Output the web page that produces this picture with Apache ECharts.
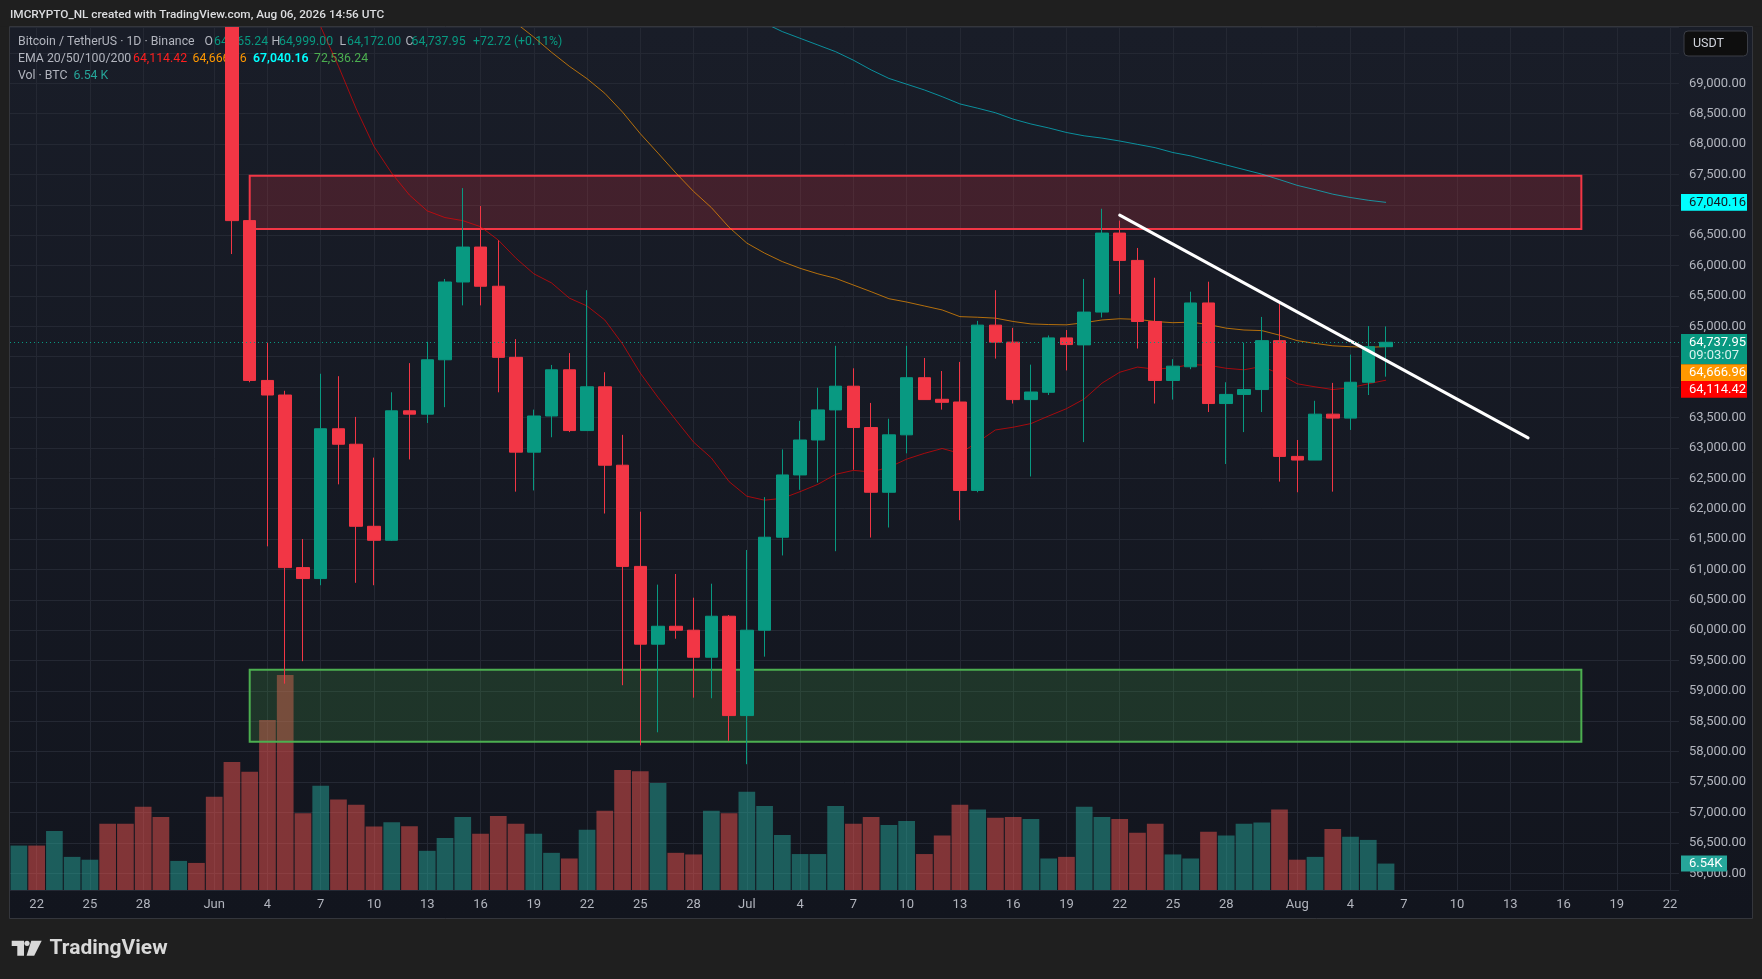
<!DOCTYPE html>
<html>
<head>
<meta charset="utf-8">
<script src="https://cdn.jsdelivr.net/npm/echarts@6/dist/echarts.min.js"></script>
<style>
html,body{margin:0;padding:0;background:#1f1f1f;}
#chart{width:1762px;height:979px;}
</style>
</head>
<body>
<div id="chart"></div>
<script>
// ---------------- DATA ----------------
const startDate = '2026-05-21';
const dayCount = 94;                 // visible days: May 21 .. Aug 22
const monthNames = ['Jan','Feb','Mar','Apr','May','Jun','Jul','Aug','Sep','Oct','Nov','Dec'];
const tickDays = [1,4,7,10,13,16,19,22,25,28];

// Candles aligned with dates from May 21 (first 12 days are above the visible price range)
const N12 = [null,null,null,null,null,null,null,null,null,null,null,null];
const openV = N12.concat([
  71900,66740,64110,63870,61030,60850,63315,63060,61710,61480,63610,63555,64450,65730,66305,65660,64490,62930,63525,64285,63285,64005,62715,61050,59770,60065,60000,59555,60230,
  58595,60000,61530,62555,63130,63625,64015,63335,62270,63215,64155,63800,63755,62300,65020,64740,63795,63915,64810,64695,65235,66535,66085,65080,64110,64335,65385,63730,63880,63960,64765,
  62860,62800,63555,63490,64080,64665.24]);
const closeV = N12.concat([
  66740,64110,63870,61030,60850,63315,63060,61710,61480,63610,63555,64450,65730,66305,65660,64490,62930,63525,64285,63285,64005,62715,61050,59770,60065,60000,59555,60230,58595,
  60000,61530,62555,63130,63625,64015,63335,62270,63215,64155,63795,63750,62300,65020,64740,63795,63920,64810,64700,65235,66535,66085,65080,64110,64345,65385,63730,63880,63960,64765,62860,
  62800,63555,63490,64080,64665.24,64737.95]);
const lowV = N12.concat([
  66190,64080,61380,59120,59490,60740,62400,60780,60740,61470,62810,63410,63670,65345,65345,63915,62280,62300,63175,63260,63280,61920,59095,58105,58320,59860,58890,58880,58180,
  57795,59565,61230,62310,62430,61300,62640,61525,61690,62910,63795,63630,61810,62270,64470,63730,62530,63870,64275,63095,65145,65530,64635,63730,63795,64295,63590,62735,63260,63590,62445,
  62270,62800,62280,63295,63870,64172]);
const highV = N12.concat([
  72300,66760,64730,63940,61500,64220,64180,63510,62840,63915,64395,64745,65780,67275,66980,66415,64790,63630,64365,64560,65595,64245,63215,61950,60750,60925,60535,60765,60250,
  61320,62190,62975,63445,63990,64680,64310,63740,63480,64680,64480,64265,64415,65090,65595,64975,64370,64850,64940,65780,66935,66740,66290,65800,64460,65570,65735,64080,64730,65155,65400,
  63130,63775,64070,64535,65005,64999]);
const earlyDir = [1,-1,1,1,1,-1,-1,-1,-1,1,-1,-1];

// Volume in thousands of BTC
const volK = [
  11.0,11.0,14.6,8.2,7.5,16.4,16.4,20.6,18.1,7.2,6.7,23.1,
  31.7,29.3,42.1,53.2,19.0,25.8,22.4,21.1,15.7,16.8,15.8,9.7,12.9,18.1,13.9,18.3,16.4,13.9,9.2,7.8,14.9,19.6,29.7,29.4,26.5,9.2,8.8,19.6,19.0,
  24.3,20.8,13.6,8.9,8.9,20.8,16.4,18.1,16.1,17.1,8.9,13.5,21.1,19.9,17.9,18.1,17.6,7.8,8.2,20.6,18.1,17.6,14.2,16.4,8.8,7.8,14.4,13.5,16.4,16.7,19.9,
  7.5,8.2,15.1,13.2,12.4,6.54];

// EMAs (null = not drawn / far above range)
const ema20 = Array(16).fill(null).concat([
  70600,69930,69280,68580,67960,67520,67160,66900,66790,66740,66640,66420,66120,65865,65715,65465,65335,65105,64710,64230,63830,63460,63095,62835,62445,
  62205,62140,62170,62280,62400,62565,62630,62605,62680,62815,62910,62990,62910,63095,63295,63340,63400,63525,63645,63805,64065,64245,64330,64295,64320,64370,64360,64310,64285,64340,64220,
  64055,64005,63960,63990,64055,64114.42]);
const ema50 = Array(27).fill(null).concat([
  70250,69990,69760,69510,69280,69075,68835,68525,68170,67850,67525,67220,66955,66630,
  66370,66205,66065,65955,65865,65790,65680,65570,65455,65400,65335,65270,65160,65150,65135,65080,65040,65030,65025,65060,65105,65125,65115,65080,65060,65070,65030,64970,64940,64930,64855,
  64765,64720,64680,64665,64655,64666.96]);
const ema100 = Array(41).fill(null).concat([
  70110,69990,69850,69740,69630,69520,69380,69220,69080,68985,68890,68780,68660,68590,68515,68410,68330,68265,68190,68135,68098,68050,67995,67940,67860,67805,67730,67655,67580,67505,67415,
  67320,67250,67175,67120,67075,67040.16]);
const ema200Last = 72536.24;
const changeLabel = '+72.72 (+0.11%)';
const countdownLabel = '09:03:07';

// Drawings
const redZone = ['2026-06-03', '2026-08-17', 67480, 66600];
const greenZone = ['2026-06-03', '2026-08-17', 59350, 58165];
const trendStart = ['2026-07-22', 66830];
const trendEnd = ['2026-08-14', 63165];

// Price scale extent (visible window)
const priceMin = 55725, priceMax = 69926;
const volMax = 60000;

// ---------------- BUILD ----------------
const FONT = 'Roboto, "Noto Sans", "DejaVu Sans", sans-serif';
const UP = '#089981', DOWN = '#f23645';
const categories = [];
{
  const t0 = Date.parse(startDate + 'T00:00:00Z');
  for (let i = 0; i < dayCount; i++) categories.push(new Date(t0 + i * 86400000).toISOString().slice(0, 10));
}
const isTick = (idx) => tickDays.indexOf(+categories[idx].slice(8, 10)) >= 0;
const tickLabel = (val) => {
  const m = +val.slice(5, 7), d = +val.slice(8, 10);
  return d === 1 ? monthNames[m - 1] : String(d);
};
const fmt2 = (v) => Number(v).toLocaleString('en-US', {minimumFractionDigits: 2, maximumFractionDigits: 2});

const candleData = openV.map((o, i) => o == null ? ['-', '-', '-', '-'] : [o, closeV[i], lowV[i], highV[i]]);
const volData = volK.map((v, i) => {
  const up = i < earlyDir.length ? earlyDir[i] > 0 : closeV[i] >= openV[i];
  return {value: v * 1000, itemStyle: {color: up ? 'rgba(38,166,154,0.5)' : 'rgba(239,83,80,0.5)'}};
});
const last = openV.length - 1;

const chart = echarts.init(document.getElementById('chart'), null, {renderer: 'canvas'});

const option = {
  backgroundColor: '#1f1f1f',
  animation: false,
  grid: [
    {left: 10, right: 83, top: 27, bottom: 89},
    {left: 10, right: 83, top: 647.6, bottom: 89}
  ],
  xAxis: [
    {
      type: 'category', gridIndex: 0, data: categories, boundaryGap: true,
      axisLine: {show: false}, axisTick: {show: false, alignWithLabel: true},
      axisLabel: {interval: (i) => isTick(i), formatter: tickLabel, color: '#b2b5be', fontSize: 13, fontFamily: FONT, margin: 8, hideOverlap: false},
      splitLine: {show: true, alignWithLabel: true, interval: (i) => isTick(i), lineStyle: {color: '#242833', width: 1}}
    },
    {type: 'category', gridIndex: 1, data: categories, boundaryGap: true, show: false}
  ],
  yAxis: [
    {
      type: 'value', gridIndex: 0, position: 'right', min: priceMin, max: priceMax, splitNumber: 28,
      axisLine: {show: false}, axisTick: {show: false},
      axisLabel: {
        color: '#b2b5be', fontSize: 13, fontFamily: FONT, margin: 10, showMinLabel: false, showMaxLabel: false,
        formatter: (v) => (v % 500 !== 0 || v >= 69500) ? '' : fmt2(v)
      },
      splitLine: {show: true, lineStyle: {color: '#242833', width: 1}}
    },
    {type: 'value', gridIndex: 1, min: 0, max: volMax, show: false, splitLine: {show: false}}
  ],
  series: [
    {
      type: 'bar', name: 'Vol', xAxisIndex: 1, yAxisIndex: 1, data: volData,
      barCategoryGap: '6%', z: 1, silent: true
    },
    {
      type: 'candlestick', name: 'BTCUSDT', xAxisIndex: 0, yAxisIndex: 0, data: candleData,
      barWidth: 13, z: 3, clip: true, silent: true,
      itemStyle: {color: UP, color0: DOWN, borderColor: UP, borderColor0: DOWN, borderWidth: 1},
      markArea: {
        silent: true, z: 2,
        data: [
          [{coord: [redZone[0], redZone[2]], itemStyle: {color: 'rgba(242,54,69,0.2)', borderColor: '#f23645', borderWidth: 2}},
           {coord: [redZone[1], redZone[3]]}],
          [{coord: [greenZone[0], greenZone[2]], itemStyle: {color: 'rgba(76,175,80,0.2)', borderColor: '#4caf50', borderWidth: 2}},
           {coord: [greenZone[1], greenZone[3]]}]
        ]
      },
      markLine: {
        silent: true, z: 5, symbol: ['none', 'none'], label: {show: false}, emphasis: {disabled: true},
        data: [
          [{coord: trendStart, lineStyle: {color: '#ffffff', width: 3, type: 'solid', cap: 'round'}}, {coord: trendEnd}],
          {yAxis: closeV[last], lineStyle: {color: UP, width: 1, type: [1, 3]}}
        ]
      }
    },
    {type: 'line', name: 'EMA20', data: ema20, symbol: 'none', showSymbol: false, silent: true, z: 3, clip: true,
     lineStyle: {color: 'rgba(255,0,0,0.62)', width: 1}},
    {type: 'line', name: 'EMA50', data: ema50, symbol: 'none', showSymbol: false, silent: true, z: 3, clip: true,
     lineStyle: {color: 'rgba(255,152,0,0.68)', width: 1}},
    {type: 'line', name: 'EMA100', data: ema100, symbol: 'none', showSymbol: false, silent: true, z: 3, clip: true,
     lineStyle: {color: 'rgba(0,220,235,0.6)', width: 1}}
  ]
};
chart.setOption(option);

// ---------------- GRAPHICS (text, tags) ----------------
const G = [];
const txt = (x, y, text, fill, size, weight, z, extra) => Object.assign({
  type: 'text', x: x, y: y, z: z == null ? 0 : z, silent: true,
  style: {text: text, fill: fill, fontSize: size, fontFamily: FONT, fontWeight: weight || 'normal', verticalAlign: 'middle', align: 'left'}
}, extra || {});

// panel background and border
G.push({type: 'rect', z: -10, silent: true, shape: {x: 10, y: 27, width: 1742, height: 891},
  style: {fill: new echarts.graphic.LinearGradient(0, 0, 0, 1, [{offset: 0, color: '#191d28'}, {offset: 1, color: '#12151e'}])}});
// header band (covers candle parts that run above the pane)
G.push({type: 'rect', z: 50, silent: true, shape: {x: 0, y: 0, width: 1762, height: 26.5}, style: {fill: '#1f1f1f'}});
G.push({type: 'rect', z: 60, silent: true, shape: {x: 9.5, y: 26.5, width: 1743, height: 892},
  style: {fill: 'none', stroke: '#34363c', lineWidth: 1}});

// header
G.push(txt(10, 15, 'IMCRYPTO_NL created with TradingView.com, Aug 06, 2026 14:56 UTC', '#dcdde0', 11.8, 500, 61));

// legend
const GRAY = '#b2b5be', TEAL = '#089981';
G.push(txt(18, 42, 'Bitcoin / TetherUS · 1D · Binance', GRAY, 12.3));
G.push(txt(204.5, 42, 'O', GRAY, 12.3)); G.push(txt(214, 42, fmt2(openV[last]), TEAL, 12.3));
G.push(txt(271.5, 42, 'H', GRAY, 12.3)); G.push(txt(279, 42, fmt2(highV[last]), TEAL, 12.3));
G.push(txt(339.5, 42, 'L', GRAY, 12.3)); G.push(txt(347, 42, fmt2(lowV[last]), TEAL, 12.3));
G.push(txt(405.5, 42, 'C', GRAY, 12.3)); G.push(txt(411.5, 42, fmt2(closeV[last]), TEAL, 12.3));
G.push(txt(473, 42, changeLabel, TEAL, 12.3));
G.push(txt(18, 59, 'EMA 20/50/100/200', GRAY, 12.3));
G.push(txt(133, 59, fmt2(ema20[last]), '#ff1f1f', 12.3));
G.push(txt(192.5, 59, fmt2(ema50[last]), '#ff9800', 12.3));
G.push(txt(253, 59, fmt2(ema100[last]), '#00ffff', 12.3, 600));
G.push(txt(314, 59, fmt2(ema200Last), '#4caf50', 12.3));
G.push(txt(18, 76, 'Vol · BTC', GRAY, 12.3));
G.push(txt(73.5, 76, (volK[last]).toFixed(2) + ' K', '#26a69a', 12.3));

// USDT button
G.push({type: 'rect', z: 100, silent: true, shape: {x: 1684, y: 31, width: 63.5, height: 25, r: 4},
  style: {fill: '#0e0e0e', stroke: '#3a3d45', lineWidth: 1}});
G.push(txt(1693, 43.5, 'USDT', '#d1d4dc', 12.5, 'normal', 101));

// price tags on the right scale, stacked like TradingView
const tags = [
  {v: ema100[last], lines: [fmt2(ema100[last])], bg: '#00ffff', fg: '#131722'},
  {v: closeV[last], lines: [fmt2(closeV[last]), countdownLabel], bg: UP, fg: '#ffffff', fg2: '#d8f3ee'},
  {v: ema50[last], lines: [fmt2(ema50[last])], bg: '#ff9800', fg: '#ffffff'},
  {v: ema20[last], lines: [fmt2(ema20[last])], bg: '#ff0000', fg: '#ffffff'}
];
tags.forEach(t => { t.y = chart.convertToPixel({yAxisIndex: 0}, t.v); });
tags.sort((a, b) => a.y - b.y);
let prevBottom = -1e9;
tags.forEach(t => {
  const h = t.lines.length === 1 ? 16.7 : 30.3;
  const top = Math.max(t.y - 8.35, prevBottom);
  prevBottom = top + h;
  G.push({type: 'rect', z: 100, silent: true, shape: {x: 1681, y: top, width: 66, height: h}, style: {fill: t.bg}});
  G.push(txt(1689, top + 8.6, t.lines[0], t.fg, 13, 'normal', 101));
  if (t.lines.length > 1) G.push(txt(1689, top + 21.5, t.lines[1], t.fg2, 13, 'normal', 101));
});
// volume tag
{
  const vy = chart.convertToPixel({yAxisIndex: 1}, volK[last] * 1000);
  G.push({type: 'rect', z: 100, silent: true, shape: {x: 1681, y: vy - 8, width: 46, height: 16}, style: {fill: '#26a69a'}});
  G.push(txt(1689, vy + 0.3, volK[last].toFixed(2) + 'K', '#ffffff', 13, 'normal', 101));
}

// footer logo
const LOGO = '#d9d9d9';
G.push({type: 'polygon', z: 10, silent: true, shape: {points: [[11.7, 940.7], [24, 940.7], [24, 955.7], [17.3, 955.7], [17.3, 945.9], [11.7, 945.9]]}, style: {fill: LOGO}});
G.push({type: 'circle', z: 10, silent: true, shape: {cx: 27, cy: 943.3, r: 2.6}, style: {fill: LOGO}});
G.push({type: 'polygon', z: 10, silent: true, shape: {points: [[31.3, 940.7], [41.7, 940.7], [34.2, 955.7], [26.6, 955.7]]}, style: {fill: LOGO}});
G.push(txt(49.5, 948.8, 'TradingView', LOGO, 21, 'bold', 10));

chart.setOption({graphic: {elements: G}});
</script>
</body>
</html>
